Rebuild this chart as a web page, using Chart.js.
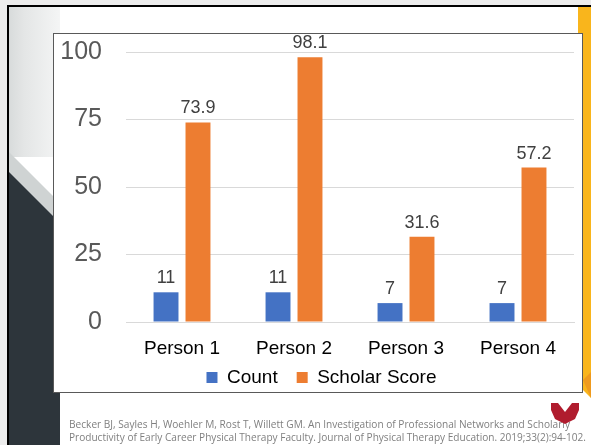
<!DOCTYPE html>
<html>
<head>
<meta charset="utf-8">
<script src="https://cdn.jsdelivr.net/npm/chart.js@4.4.1/dist/chart.umd.min.js"></script>
<style>
  html, body { margin: 0; padding: 0; }
  body { width: 591px; height: 445px; overflow: hidden; position: relative; background: #ececec; font-family: "Liberation Sans", Arial, sans-serif; }
  #slide { position: absolute; left: 7px; top: 5px; width: 584px; height: 440px; background: #ffffff; border-top: 2px solid #000; border-left: 2px solid #000; box-sizing: border-box; }
  #deco { position: absolute; left: 0; top: 0; }
  #box { position: absolute; left: 53px; top: 33px; width: 530px; height: 360px; background: #fff; border: 1px solid #595959; box-sizing: border-box; }
  #wrap { position: absolute; left: 53px; top: 33px; width: 530px; height: 364px; }
  #cite { position: absolute; left: 0; top: 0; }
</style>
</head>
<body>
<div id="slide"></div>
<svg id="deco" width="591" height="445">
  <defs>
    <linearGradient id="strip" x1="0" x2="1" y1="0" y2="0">
      <stop offset="0" stop-color="#d8dbdb"/>
      <stop offset="0.3" stop-color="#e4e6e6"/>
      <stop offset="1" stop-color="#f4f5f5"/>
    </linearGradient>
  </defs>
  <rect x="9" y="7" width="51" height="150" fill="url(#strip)"/>
  <polygon points="9,152 60,203 60,225 9,174" fill="#cfd3d3"/>
  <polygon points="9,172 60,223 60,445 9,445" fill="#2d353b"/>
  <polygon points="578,7 591,7 591,398 585,392 578,385" fill="#f9b51c"/>
  <polygon points="583,380 591,372 591,398" fill="#ef9a1e"/>
</svg>
<div id="box"></div>
<div id="wrap"><canvas id="c" width="530" height="364"></canvas></div>
<svg id="cite" width="591" height="445">
  <text x="69" y="428" font-family="Open Sans, Liberation Sans, sans-serif" font-size="10.5" fill="#7f7f7f" textLength="501" lengthAdjust="spacingAndGlyphs">Becker BJ, Sayles H, Woehler M, Rost T, Willett GM. An Investigation of Professional Networks and Scholarly</text>
  <text x="69" y="441" font-family="Open Sans, Liberation Sans, sans-serif" font-size="10.5" fill="#7f7f7f" textLength="517" lengthAdjust="spacingAndGlyphs">Productivity of Early Career Physical Therapy Faculty. Journal of Physical Therapy Education. 2019;33(2):94-102.</text>
  <polygon points="551,403 558,403 565,412 572,403 579,403 579,410 575,419 565,424 555,419 551,410" fill="#b01c2e"/>
</svg>
<script>
const categories = ['Person 1', 'Person 2', 'Person 3', 'Person 4'];
const countValues = [11, 11, 7, 7];
const scholarValues = [73.9, 98.1, 31.6, 57.2];
const seriesNames = ['Count', 'Scholar Score'];
const yTickValues = [0, 25, 50, 75, 100];

const valueLabels = {
  id: 'valueLabels',
  afterDatasetsDraw(chart) {
    const ctx = chart.ctx;
    ctx.save();
    ctx.font = '18px "Liberation Sans", Arial, sans-serif';
    ctx.fillStyle = '#404040';
    ctx.textAlign = 'center';
    ctx.textBaseline = 'bottom';
    chart.data.datasets.forEach((ds, i) => {
      const meta = chart.getDatasetMeta(i);
      meta.data.forEach((bar, j) => {
        ctx.fillText(String(ds.data[j]), bar.x, bar.y - 5);
      });
    });
    ctx.restore();
  }
};

// let axis labels draw outside their (deliberately tight) scale boxes
const noLabelClip = {
  id: 'noLabelClip',
  beforeDraw(chart) {
    Object.values(chart.scales).forEach(s => { s._computeLabelArea = () => undefined; });
  }
};

new Chart(document.getElementById('c'), {
  type: 'bar',
  data: {
    labels: categories,
    datasets: [
      { label: seriesNames[0], data: countValues, backgroundColor: '#4472C4' },
      { label: seriesNames[1], data: scholarValues, backgroundColor: '#ED7D31' }
    ]
  },
  options: {
    responsive: false,
    animation: false,
    devicePixelRatio: 1,
    categoryPercentage: 0.571,
    barPercentage: 0.78,
    layout: { padding: { top: 19, right: 9, left: 16, bottom: 0 } },
    plugins: {
      tooltip: { enabled: false },
      legend: {
        position: 'bottom',
        labels: {
          font: { size: 19, family: '"Liberation Sans", Arial, sans-serif' },
          color: '#000000',
          boxWidth: 11,
          boxHeight: 11,
          padding: 19
        }
      }
    },
    scales: {
      x: {
        grid: { display: false, drawTicks: false },
        border: { display: true, color: '#d9d9d9' },
        ticks: { font: { size: 19, family: '"Liberation Sans", Arial, sans-serif' }, color: '#000000', padding: 15 },
        afterFit(s) { s.height = 27; }
      },
      y: {
        min: 0,
        max: 100,
        afterBuildTicks(s) { s.ticks = yTickValues.map(v => ({ value: v })); },
        grid: { color: '#d9d9d9', drawTicks: true, tickLength: 24, tickColor: 'rgba(0,0,0,0)' },
        border: { display: false },
        ticks: { font: { size: 25, family: '"Liberation Sans", Arial, sans-serif' }, color: '#595959', padding: 0 },
        afterFit(s) { s.width = 57; }
      }
    }
  },
  plugins: [valueLabels, noLabelClip]
});
</script>
</body>
</html>
